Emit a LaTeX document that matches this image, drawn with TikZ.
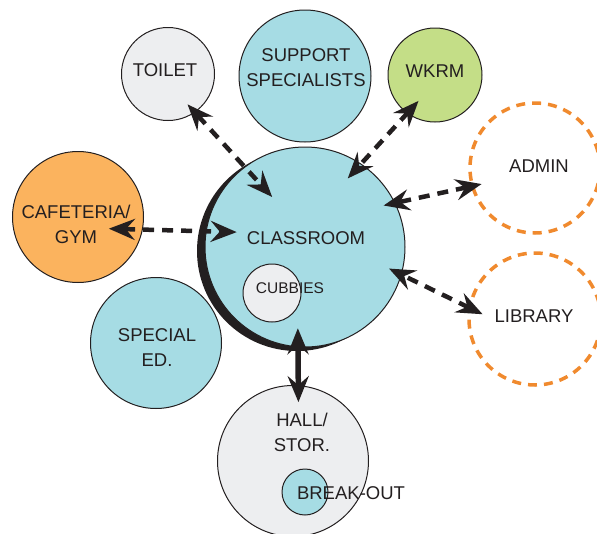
\documentclass[tikz,border=0pt]{standalone}
\usepackage{fontspec}
\setmainfont{Liberation Sans}
\usetikzlibrary{arrows.meta}
\definecolor{ink}{HTML}{231F20}
\definecolor{roomblue}{HTML}{A6DCE4}
\definecolor{roomgrey}{HTML}{EDEEF0}
\definecolor{cafeorange}{HTML}{FBB35E}
\definecolor{wkrmgreen}{HTML}{C4DE87}
\definecolor{planorange}{HTML}{F08A2E}
\tikzset{
  barb/.tip={Stealth[length=26pt,width=21pt,inset=9pt]},
  room/.style={circle, draw=ink, line width=1pt, inner sep=0pt},
  plan/.style={circle, draw=planorange, line width=3.5pt, dash pattern=on 9pt off 7pt, inner sep=0pt},
  tag/.style={text=ink, font=\fontsize{18.5}{25}\selectfont, align=center, inner sep=0pt},
  link/.style={draw=ink, line width=4.5pt, barb-barb},
  dlink/.style={link, dash pattern=on 11pt off 8pt}
}
\begin{document}
\begin{tikzpicture}[x=1pt, y=-1pt]
  \useasboundingbox (0,0) rectangle (597,533);
  % rooms
  \node[circle, fill=ink, minimum size=200pt, inner sep=0pt] (shade) at (297,251) {};
  \node[room, fill=roomblue, minimum size=200pt] (class) at (305,247) {};
  \node[room, fill=roomgrey, minimum size=58pt] (cubbies) at (272,293) {};
  \node[room, fill=roomgrey, minimum size=93pt] (toilet) at (168,74) {};
  \node[room, fill=roomblue, minimum size=132pt] (support) at (305,76) {};
  \node[room, fill=wkrmgreen, minimum size=94pt] (wkrm) at (435,75) {};
  \node[plan, minimum size=130pt] (admin) at (535,168) {};
  \node[plan, minimum size=132pt] (library) at (535,319) {};
  \node[room, fill=cafeorange, minimum size=131pt] (cafe) at (78,217) {};
  \node[room, fill=roomblue, minimum size=131pt] (special) at (156,343) {};
  \node[room, fill=roomgrey, minimum size=151pt] (hall) at (293,461) {};
  \node[room, fill=roomblue, minimum size=46pt] (breakout) at (305,492) {};
  % labels
  \node[tag] (class-t) at (306,238) {CLASSROOM};
  \node[tag, font=\fontsize{15.5}{20}\selectfont] (cubbies-t) at (290,288) {CUBBIES};
  \node[tag] (toilet-t) at (165,70) {TOILET};
  \node[tag] (support-t) at (306,68) {SUPPORT\\SPECIALISTS};
  \node[tag] (wkrm-t) at (435,71) {WKRM};
  \node[tag] (admin-t) at (539,166) {ADMIN};
  \node[tag] (library-t) at (534,316) {LIBRARY};
  \node[tag] (cafe-t) at (76,224) {CAFETERIA/\\GYM};
  \node[tag] (special-t) at (157,348) {SPECIAL\\ED.};
  \node[tag] (hall-t) at (302,432) {HALL/\\STOR.};
  \node[tag] (breakout-t) at (351,493) {BREAK-OUT};
  % links
  \draw[dlink, shorten <=-11pt, shorten >=-41pt] (toilet.305) -- (class.127);
  \draw[dlink, shorten <=-17pt, shorten >=-20pt] (wkrm.234) -- (class.56);
  \draw[dlink, shorten <=-11pt, shorten >=-12pt] (admin.196) -- (class.26);
  \draw[dlink, shorten <=-16pt, shorten >=-14pt] (library.170) -- (class.344);
  \draw[dlink, shorten <=-34pt, shorten >=-31pt] (cafe.349) -- (class.171);
  \draw[link, line width=5.5pt, shorten <=-17pt, shorten >=-19pt] (hall.86) -- (class.266);
\end{tikzpicture}
\end{document}
